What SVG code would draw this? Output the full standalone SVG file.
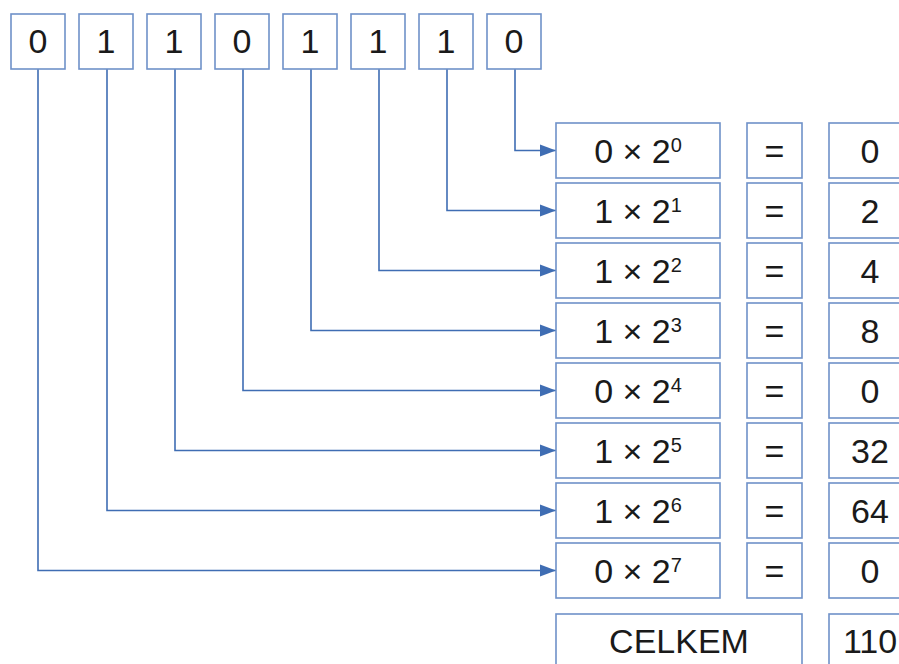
<svg xmlns="http://www.w3.org/2000/svg" width="899" height="664" viewBox="0 0 899 664">
<defs>
<style>
.b{fill:#fff;stroke:#6f91c9;stroke-width:1.6}
.t{font-family:"Liberation Sans",Arial,sans-serif;font-size:34px;fill:#1a1a1a;text-anchor:middle}
.s{font-size:20px}
.c{fill:none;stroke:#3f6db3;stroke-width:1.6}
</style>
<marker id="ah" markerUnits="userSpaceOnUse" markerWidth="18" markerHeight="14" refX="16" refY="6.5" orient="auto">
<path d="M0,0.5 L16,6.5 L0,12.5 Z" fill="#3f6db3"/>
</marker>
</defs>
<rect width="899" height="664" fill="#fff"/>
<g id="connectors">
<path class="c" d="M515,69 V150.5 H556" marker-end="url(#ah)"/>
<path class="c" d="M447,69 V210.5 H556" marker-end="url(#ah)"/>
<path class="c" d="M379,69 V270.5 H556" marker-end="url(#ah)"/>
<path class="c" d="M311,69 V330.5 H556" marker-end="url(#ah)"/>
<path class="c" d="M243,69 V390.5 H556" marker-end="url(#ah)"/>
<path class="c" d="M175,69 V450.5 H556" marker-end="url(#ah)"/>
<path class="c" d="M107,69 V510.5 H556" marker-end="url(#ah)"/>
<path class="c" d="M38,69 V570.5 H556" marker-end="url(#ah)"/>
</g>
<g id="bit0"><rect class="b" x="11" y="14" width="54" height="55"/><text class="t" x="38" y="53">0</text></g>
<g id="bit1"><rect class="b" x="79" y="14" width="54" height="55"/><text class="t" x="106" y="53">1</text></g>
<g id="bit2"><rect class="b" x="147" y="14" width="54" height="55"/><text class="t" x="174" y="53">1</text></g>
<g id="bit3"><rect class="b" x="215" y="14" width="54" height="55"/><text class="t" x="242" y="53">0</text></g>
<g id="bit4"><rect class="b" x="283" y="14" width="54" height="55"/><text class="t" x="310" y="53">1</text></g>
<g id="bit5"><rect class="b" x="351" y="14" width="54" height="55"/><text class="t" x="378" y="53">1</text></g>
<g id="bit6"><rect class="b" x="419" y="14" width="54" height="55"/><text class="t" x="446" y="53">1</text></g>
<g id="bit7"><rect class="b" x="487" y="14" width="54" height="55"/><text class="t" x="514" y="53">0</text></g>

<g id="term0"><rect class="b" x="556" y="123" width="164" height="55"/><text class="t" x="638" y="163">0 × 2<tspan class="s" dy="-11">0</tspan></text></g>
<g id="eq0"><rect class="b" x="747" y="123" width="55" height="55"/><text class="t" x="774.5" y="163">=</text></g>
<g id="val0"><rect class="b" x="829" y="123" width="82" height="55"/><text class="t" x="870" y="163">0</text></g>

<g id="term1"><rect class="b" x="556" y="183" width="164" height="55"/><text class="t" x="638" y="223">1 × 2<tspan class="s" dy="-11">1</tspan></text></g>
<g id="eq1"><rect class="b" x="747" y="183" width="55" height="55"/><text class="t" x="774.5" y="223">=</text></g>
<g id="val1"><rect class="b" x="829" y="183" width="82" height="55"/><text class="t" x="870" y="223">2</text></g>

<g id="term2"><rect class="b" x="556" y="243" width="164" height="55"/><text class="t" x="638" y="283">1 × 2<tspan class="s" dy="-11">2</tspan></text></g>
<g id="eq2"><rect class="b" x="747" y="243" width="55" height="55"/><text class="t" x="774.5" y="283">=</text></g>
<g id="val2"><rect class="b" x="829" y="243" width="82" height="55"/><text class="t" x="870" y="283">4</text></g>

<g id="term3"><rect class="b" x="556" y="303" width="164" height="55"/><text class="t" x="638" y="343">1 × 2<tspan class="s" dy="-11">3</tspan></text></g>
<g id="eq3"><rect class="b" x="747" y="303" width="55" height="55"/><text class="t" x="774.5" y="343">=</text></g>
<g id="val3"><rect class="b" x="829" y="303" width="82" height="55"/><text class="t" x="870" y="343">8</text></g>

<g id="term4"><rect class="b" x="556" y="363" width="164" height="55"/><text class="t" x="638" y="403">0 × 2<tspan class="s" dy="-11">4</tspan></text></g>
<g id="eq4"><rect class="b" x="747" y="363" width="55" height="55"/><text class="t" x="774.5" y="403">=</text></g>
<g id="val4"><rect class="b" x="829" y="363" width="82" height="55"/><text class="t" x="870" y="403">0</text></g>

<g id="term5"><rect class="b" x="556" y="423" width="164" height="55"/><text class="t" x="638" y="463">1 × 2<tspan class="s" dy="-11">5</tspan></text></g>
<g id="eq5"><rect class="b" x="747" y="423" width="55" height="55"/><text class="t" x="774.5" y="463">=</text></g>
<g id="val5"><rect class="b" x="829" y="423" width="82" height="55"/><text class="t" x="870" y="463">32</text></g>

<g id="term6"><rect class="b" x="556" y="483" width="164" height="55"/><text class="t" x="638" y="523">1 × 2<tspan class="s" dy="-11">6</tspan></text></g>
<g id="eq6"><rect class="b" x="747" y="483" width="55" height="55"/><text class="t" x="774.5" y="523">=</text></g>
<g id="val6"><rect class="b" x="829" y="483" width="82" height="55"/><text class="t" x="870" y="523">64</text></g>

<g id="term7"><rect class="b" x="556" y="543" width="164" height="55"/><text class="t" x="638" y="583">0 × 2<tspan class="s" dy="-11">7</tspan></text></g>
<g id="eq7"><rect class="b" x="747" y="543" width="55" height="55"/><text class="t" x="774.5" y="583">=</text></g>
<g id="val7"><rect class="b" x="829" y="543" width="82" height="55"/><text class="t" x="870" y="583">0</text></g>

<g id="total-label"><rect class="b" x="556" y="614" width="246" height="60"/><text class="t" x="679" y="653">CELKEM</text></g>
<g id="total-value"><rect class="b" x="829" y="614" width="82" height="60"/><text class="t" x="870" y="653">110</text></g>
</svg>
